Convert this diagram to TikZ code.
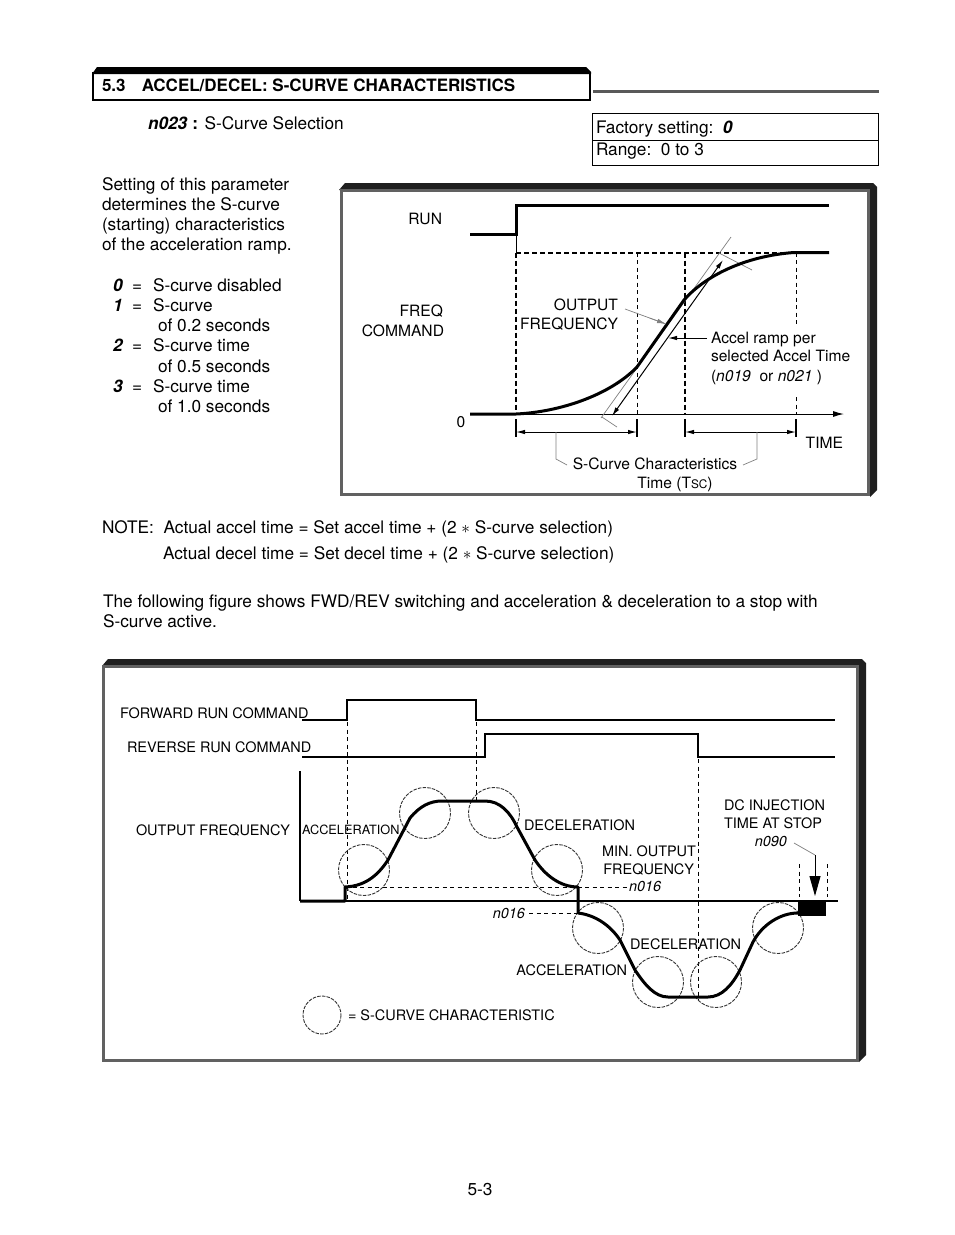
\documentclass[tikz,border=0pt]{standalone}
\usepackage{fontspec}
\setmainfont{TeX Gyre Heros}
\usetikzlibrary{arrows.meta,calc}
\begin{document}
\begin{tikzpicture}[x=1pt,y=-1pt,
  every node/.style={inner sep=0pt, outer sep=0pt},
  body/.style={font=\fontsize{17.25}{20}\selectfont, text height=12.4pt, text depth=0pt},
  hdr/.style={font=\bfseries\fontsize{17}{19}\selectfont, text height=12.2pt, text depth=0pt},
  dlab/.style={font=\fontsize{15.6}{18}\selectfont, text height=11.2pt, text depth=0pt},
  blab/.style={font=\fontsize{14.45}{17}\selectfont, text height=10.4pt, text depth=0pt},
  slab/.style={font=\fontsize{12.75}{15}\selectfont, text height=9.2pt, text depth=0pt},
  sig/.style={line width=3pt, line join=round},
  sigb/.style={line width=2.6pt, line join=miter},
  thinl/.style={line width=1pt},
  grayl/.style={line width=0.7pt, draw=black!50},
  dashA/.style={line width=2pt, dash pattern=on 5pt off 3pt},
  dashB/.style={line width=1pt, dash pattern=on 4pt off 3.5pt},
  scirc/.style={draw=black!80, line width=0.9pt, dash pattern=on 3.5pt off 1.2pt},
  shadow/.style={fill=black!88},
  frameg/.style={draw=black!62, line width=3pt, fill=white},
  dimarr/.style={line width=1pt, {Latex[length=9pt,width=4.5pt]}-{Latex[length=9pt,width=4.5pt]}},
]
\useasboundingbox (0,0) rectangle (954,1235);
\fill[white] (0,0) rectangle (954,1235);

% ---------------- header ----------------
\fill[black] (92,74) -- (97,67) -- (586,67) -- (591,72) -- (591,74) -- cycle;
\draw[line width=2pt] (93,73) rectangle (590,100);
\draw[draw=black!65, line width=3pt] (593,91) -- (879,91);
\node[hdr, anchor=west] (title) at (102,85) {5.3\hspace{0.95em}ACCEL/DECEL: S-CURVE CHARACTERISTICS};

\node[body, anchor=west] (param) at (148,123) {\textbf{\textit{n023}}\textbf{ :} S-Curve Selection};
\draw[line width=0.9pt] (592.5,113) rectangle (878,165);
\draw[line width=0.9pt] (592.5,140) -- (878,140);
\node[body, anchor=west] (fact) at (596,127) {Factory setting:\ \ \textbf{\textit{0}}};
\node[body, anchor=west] (range) at (596,149) {Range:\ \ 0 to 3};

% ---------------- left text ----------------
\node[body, anchor=west] (t1) at (102,184) {Setting of this parameter};
\node[body, anchor=west] (t2) at (102,204) {determines the S-curve};
\node[body, anchor=west] (t3) at (102,224) {(starting) characteristics};
\node[body, anchor=west] (t4) at (102,244) {of the acceleration ramp.};
\foreach \n/\yy in {0/285,1/305,2/345,3/386}{
  \node[body, anchor=west] (k\n) at (113,\yy) {\textbf{\textit{\n}}};
  \node[body, anchor=west] (e\n) at (132,\yy) {=};
}
\node[body, anchor=west] (v0) at (153,285) {S-curve disabled};
\node[body, anchor=west] (v1) at (153,305) {S-curve};
\node[body, anchor=west] (v1b) at (158,325) {of 0.2 seconds};
\node[body, anchor=west] (v2) at (153,345) {S-curve time};
\node[body, anchor=west] (v2b) at (158,366) {of 0.5 seconds};
\node[body, anchor=west] (v3) at (153,386) {S-curve time};
\node[body, anchor=west] (v3b) at (158,406) {of 1.0 seconds};

% ---------------- top diagram frame ----------------
\fill[shadow] (339,190) -- (345,183) -- (873,183) -- (877,187) -- (877,490) -- (870,497) -- (870,190) -- cycle;
\draw[frameg] (341,190.5) rectangle (868.5,494.5);

% RUN
\node[dlab, anchor=east] (run) at (442,219) {RUN};
\draw[sig, line join=miter] (470,234) -- (516,234) -- (516,205) -- (829,205);
\draw[thinl] (516,234) -- (516,252);
% freq command dashed
\node[dlab, anchor=east] (freq) at (443,311) {FREQ};
\node[dlab, anchor=east] (fcmd) at (444,331) {COMMAND};
\draw[dashA] (516,252.5) -- (796,252.5);
\draw[dashA] (516,252.5) -- (516,414);
\draw[dashB] (637,252.5) -- (637,414);
\draw[dashA] (685,252.5) -- (685,414);
\draw[dashB] (796,252.5) -- (796,324);
\draw[dashB] (796,397) -- (796,414);
% axis
\draw[line width=1pt, -{Latex[length=11pt,width=6pt]}] (470,414) -- (844,414);
\node[dlab, anchor=center] (zero) at (461,422) {0};
\node[dlab, anchor=east] (time) at (843,443) {TIME};
% tangent / ramp
\draw[grayl] (601,418) -- (731,237);
\draw[grayl] (602,417) -- (617,427);
\draw[grayl] (719,253) -- (752,270);
\coordinate (rb) at (612,416);
\coordinate (rt) at (723,260);
\draw[dimarr] (rb) -- (rt);
% output curve
\draw[sig] (470,414) -- (516,414) .. controls (560,412) and (610,395) .. (637,367) -- (684,300) .. controls (705,276) and (745,256) .. (794,252.5) -- (829,252.5);
% labels
\node[dlab, anchor=east] (outp) at (618,305) {OUTPUT};
\node[dlab, anchor=east] (outf) at (618,324) {FREQUENCY};
\coordinate (of) at (666,324);
\coordinate (ofs) at (625,309);
\draw[grayl] (ofs) -- (of);
\draw[line width=0.7pt, draw=black!50, -{Latex[length=9pt,width=4.5pt]}] ($(ofs)!0.6!(of)$) -- (of);
\node[dlab, anchor=west] (acc1) at (711,338) {Accel ramp per};
\node[dlab, anchor=west] (acc2) at (711,356) {selected Accel Time};
\node[dlab, anchor=west] (acc3) at (711,376) {(\textit{n019}\ \ or \textit{n021} )};
\coordinate (ra) at (668,338);
\draw[line width=1pt, -{Latex[length=9pt,width=4.5pt]}] (707,338) -- (ra);
% ticks and dimension arrows
\foreach \xx in {516,637,685,796}{ \draw[line width=2pt] (\xx,419) -- (\xx,437); }
\coordinate (d1) at (516,432); \coordinate (d2) at (637,432);
\coordinate (d3) at (685,432); \coordinate (d4) at (796,432);
\draw[dimarr] (d1) -- (d2);
\draw[dimarr] (d3) -- (d4);
\node[dlab, anchor=center] (sct1) at (655,464) {S-Curve Characteristics};
\node[dlab, anchor=center] (sct2) at (675,483) {Time (T{\fontsize{11.8}{12}\selectfont SC})};
\draw[grayl] (556,432) -- (556,459) -- (567,465);
\draw[grayl] (743,465) -- (757,459) -- (757,432);

% ---------------- note text ----------------
\node[body, anchor=west] (note1) at (102,527) {NOTE:\ \ Actual accel time = Set accel time + (2 $\ast$ S-curve selection)};
\node[body, anchor=west] (note2) at (163,553) {Actual decel time = Set decel time + (2 $\ast$ S-curve selection)};
\node[body, anchor=west] (fol1) at (103,601) {The following figure shows FWD/REV switching and acceleration \& deceleration to a stop with};
\node[body, anchor=west] (fol2) at (103,621) {S-curve active.};

% ---------------- bottom diagram frame ----------------
\fill[shadow] (102,666) -- (108,659) -- (862,659) -- (866,663) -- (866,1055) -- (859,1062) -- (859,666) -- cycle;
\draw[frameg] (103.5,666.5) rectangle (857.5,1060.5);

\node[blab, anchor=west] (fwd) at (120,713) {FORWARD RUN COMMAND};
\node[blab, anchor=west] (rev) at (127,747) {REVERSE RUN COMMAND};
\draw[sigb] (302,720) -- (347,720) -- (347,700) -- (476,700) -- (476,720) -- (835,720);
\draw[sigb] (302,757) -- (485,757) -- (485,734) -- (698,734) -- (698,757) -- (835,757);
\draw[dashB] (347,722) -- (347,900);
\draw[dashB] (476,722) -- (476,800);
\draw[dashB] (698,759) -- (698,1000);

\node[blab, anchor=west] (ofq) at (136,830) {OUTPUT FREQUENCY};
\draw[line width=1.2pt] (300,771) -- (300,901);
\draw[line width=2pt] (300,901) -- (838,901);

% circles
\foreach \cx/\cy [count=\i] in {364/870,425/813,494/813,557/870,598/928,658/982,716/982,778/928}{
  \draw[scirc] (\cx,\cy) circle (25.5);
}
% min freq dashed
\draw[dashB] (345,887) -- (627,887);
\node[blab, anchor=west] (n16a) at (629,886) {\textit{n016}};
\node[blab, anchor=east] (n16b) at (525,913) {\textit{n016}};
\draw[dashB] (529,913) -- (577,913);

% output curve
\draw[sig] (300,901) -- (345,901) -- (345,887)
  .. controls (368,886) and (380,872) .. (388,860) -- (410,818)
  .. controls (420,806) and (430,801) .. (442,801) -- (485,801)
  .. controls (500,801) and (510,812) .. (517,827) -- (535,860)
  .. controls (545,875) and (560,887) .. (578,887) -- (578,913)
  .. controls (595,915) and (610,925) .. (620,940) -- (635,970)
  .. controls (645,985) and (655,997) .. (668,997) -- (708,997)
  .. controls (722,997) and (732,985) .. (740,970) -- (753,942)
  .. controls (762,925) and (780,913) .. (798,913);
\fill (798,901) rectangle (826,916);

\node[slab, anchor=west] (accA) at (302,830) {ACCELERATION};
\node[blab, anchor=west] (decA) at (524,825) {DECELERATION};
\node[blab, anchor=east] (minA) at (696,851) {MIN. OUTPUT};
\node[blab, anchor=east] (minB) at (694,869) {FREQUENCY};
\node[blab, anchor=west] (decB) at (630,944) {DECELERATION};
\node[blab, anchor=east] (accB) at (627,970) {ACCELERATION};

\node[blab, anchor=west] (dc1) at (724,805) {DC INJECTION};
\node[blab, anchor=west] (dc2) at (724,823) {TIME AT STOP};
\node[blab, anchor=east] (n90) at (787,841) {\textit{n090}};
\coordinate (dcb) at (815,855);
\coordinate (dct) at (815,896);
\draw[grayl] (794,843) -- (dcb);
\draw[line width=1pt, -{Triangle[length=20pt,width=11pt]}] (dcb) -- (dct);
\draw[dashB] (799,864) -- (799,897);
\draw[dashB] (827.5,864) -- (827.5,897);

% legend
\draw[scirc] (322,1015) circle (19);
\node[blab, anchor=west] (leg) at (348,1015) {= S-CURVE CHARACTERISTIC};

% page number
\node[body, anchor=center] (pg) at (480,1189) {5-3};
\end{tikzpicture}
\end{document}
